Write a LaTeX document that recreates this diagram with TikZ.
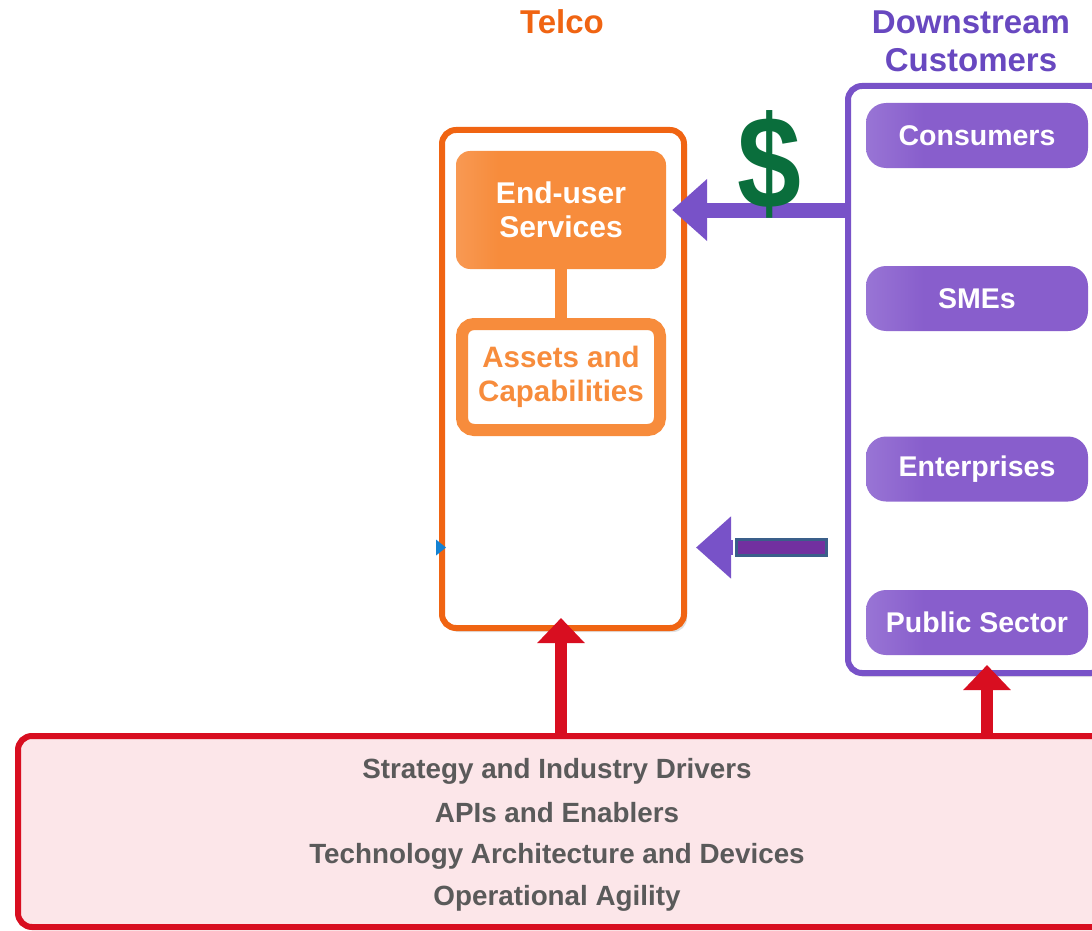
\documentclass[tikz,border=0pt]{standalone}
\usepackage{fontspec}
\setmainfont{Liberation Sans}
\usetikzlibrary{arrows.meta,shadows}
\definecolor{telcoorange}{RGB}{240,100,18}
\definecolor{lightorange}{RGB}{247,140,60}
\definecolor{paleorange}{RGB}{250,185,140}
\definecolor{dsviolet}{RGB}{120,82,200}
\definecolor{dstitle}{RGB}{104,72,192}
\definecolor{pill}{RGB}{136,94,204}
\definecolor{pilllight}{RGB}{184,160,230}
\definecolor{dollargreen}{RGB}{10,110,60}
\definecolor{drvred}{RGB}{216,14,32}
\definecolor{drvpink}{RGB}{252,230,233}
\definecolor{drvtext}{RGB}{90,90,90}
\definecolor{barblue}{RGB}{58,95,138}
\definecolor{barfill}{RGB}{114,48,160}
\definecolor{dotblue}{RGB}{20,130,210}
\pgfdeclarehorizontalshading{pillshade}{100bp}{color(0bp)=(pilllight); color(38bp)=(pill); color(100bp)=(pill)}
\pgfdeclarehorizontalshading{eusshade}{100bp}{color(0bp)=(paleorange); color(35bp)=(lightorange); color(100bp)=(lightorange)}
\tikzset{
  bigbox/.style={draw, line width=6pt, rounded corners=14pt, inner sep=0pt},
  pillbox/.style={rounded corners=20pt, minimum width=222pt, minimum height=65pt, inner sep=0pt,
    shading=pillshade, text=white,
    font=\fontsize{28.5}{30}\selectfont\bfseries},
  purplearrow/.style={draw=dsviolet, line width=15pt, -{Triangle[length=35pt,width=60pt]}},
  redarrow/.style={draw=drvred, line width=12pt, -{Triangle[length=25pt,width=46pt]}},
  drvline/.style={text=drvtext, font=\fontsize{27.8}{32}\selectfont\bfseries},
}
\begin{document}
\begin{tikzpicture}[x=1pt,y=-1pt]
\clip (0,0) rectangle (1092,931);
\fill[white] (0,0) rectangle (1092,931);

% titles
\node[text=telcoorange, font=\fontsize{33}{36}\selectfont\bfseries] (ttelco) at (562,22) {Telco};
\node[text=dstitle, font=\fontsize{33}{38}\selectfont\bfseries, align=center] (tds) at (971,41) {Downstream\\Customers};

% telco box
\node[bigbox, draw=telcoorange, fill=white, minimum width=242pt, minimum height=498pt,
  drop shadow={opacity=0.25, shadow xshift=3pt, shadow yshift=-4pt}] (telco) at (563,379) {};
\node[rounded corners=14pt, minimum width=210pt, minimum height=118pt, inner sep=0pt,
  shading=eusshade, text=white,
  font=\fontsize{30}{34}\selectfont\bfseries, align=center] (eus) at (561,210) {End-user\\Services};
\node[draw=lightorange, line width=12pt, rounded corners=12pt, fill=white, minimum width=198pt,
  minimum height=106pt, inner sep=0pt, text=lightorange,
  font=\fontsize{29.5}{34}\selectfont\bfseries, align=center] (assets) at (561,377) {Assets and\\Capabilities};
\draw[lightorange, line width=12pt] (eus.south) -- (assets.north);

% downstream box
\node[bigbox, draw=dsviolet, fill=white, minimum width=257pt, minimum height=587pt,
  drop shadow={opacity=0.2, shadow xshift=3pt, shadow yshift=-4pt}] (ds) at (976.5,379.5) {};
\node[pillbox] (cons) at (977,135.5) {Consumers};
\node[pillbox] (smes) at (977,298.5) {SMEs};
\node[pillbox] (ent) at (977,469) {Enterprises};
\node[pillbox] (pub) at (977,622.5) {Public Sector};

% upper purple arrow with dollar
\coordinate (a1start) at (ds.west |- eus.east);
\draw[purplearrow, shorten <=-3pt, shorten >=6pt] (a1start) -- (eus.east);
\node[text=dollargreen, font=\fontsize{132}{132}\selectfont\bfseries, inner sep=0pt, xscale=0.87] (dollar) at (769,164) {\$};

% lower purple arrow with bar
\node[draw=barblue, line width=3pt, fill=barfill, minimum width=90pt, minimum height=16pt, inner sep=0pt] (bar) at (781.5,547.5) {};
\coordinate (a2end) at (telco.east |- bar.west);
\draw[purplearrow, shorten >=9pt, shorten <=2pt] (bar.west) -- (a2end);
\coordinate (dotpt) at (telco.west |- bar.west);
\fill[dotblue] ([xshift=-3pt,yshift=-8pt]dotpt) -- ([xshift=7pt]dotpt) -- ([xshift=-3pt,yshift=8pt]dotpt) -- cycle;

% drivers box
\node[bigbox, draw=drvred, fill=drvpink, minimum width=1100pt, minimum height=191pt] (drv) at (568,831.5) {};
\node[drvline] (l1) at (557,771) {Strategy and Industry Drivers};
\node[drvline] (l2) at (557,813) {APIs and Enablers};
\node[drvline] (l3) at (557,856) {Technology Architecture and Devices};
\node[drvline] (l4) at (557,898) {Operational Agility};

% red arrows
\draw[redarrow, shorten <=-3pt, shorten >=-13pt] (drv.north -| 561,0) -- (telco.south -| 561,0);
\draw[redarrow, shorten <=-3pt, shorten >=-11pt] (drv.north -| 987,0) -- (ds.south -| 987,0);
\end{tikzpicture}
\end{document}
